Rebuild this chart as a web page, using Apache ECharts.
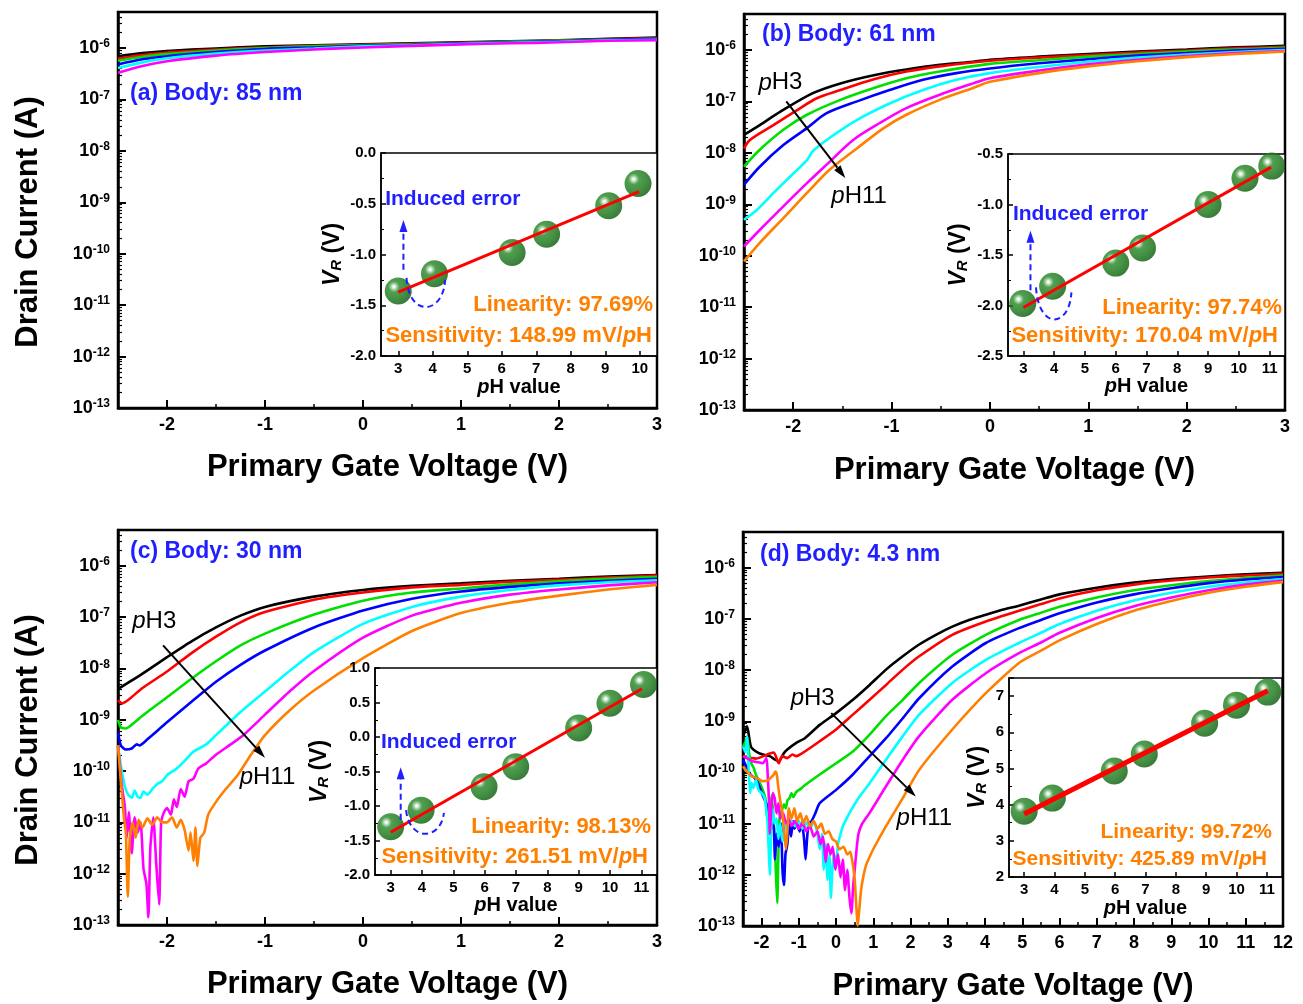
<!DOCTYPE html>
<html><head><meta charset="utf-8">
<script src="https://cdn.jsdelivr.net/npm/echarts@6/dist/echarts.min.js"></script>
<style>html,body{margin:0;padding:0;background:#fff}#c{width:1303px;height:1004px}</style>
</head><body><div id="c"></div>
<script>
// ================= DATA (drain current stored as log10(I / A)) =================
// ---- (a) Body 85 nm : x = primary gate voltage (V)
const a_vg      = [-2.5,-2.25,-2,-1.5,-1,-0.5,0,0.5,1,1.5,2,2.5,3];
const a_black   = [-6.16,-6.10,-6.06,-6.01,-5.97,-5.95,-5.93,-5.91,-5.89,-5.87,-5.85,-5.82,-5.80];
const a_red     = [-6.21,-6.14,-6.09,-6.03,-5.99,-5.96,-5.94,-5.92,-5.90,-5.88,-5.86,-5.83,-5.81];
const a_green   = [-6.25,-6.17,-6.12,-6.05,-6.00,-5.97,-5.95,-5.93,-5.91,-5.88,-5.86,-5.84,-5.82];
const a_blue    = [-6.32,-6.22,-6.16,-6.08,-6.02,-5.99,-5.96,-5.94,-5.91,-5.89,-5.87,-5.84,-5.82];
const a_cyan    = [-6.39,-6.28,-6.20,-6.11,-6.05,-6.01,-5.97,-5.95,-5.92,-5.90,-5.88,-5.85,-5.84];
const a_magenta = [-6.48,-6.35,-6.26,-6.15,-6.08,-6.03,-5.99,-5.96,-5.93,-5.91,-5.89,-5.86,-5.85];

// ---- (b) Body 61 nm : [V, log10 I]
const b_black   = [[-2.5,-7.65],[-2.34,-7.46],[-2.13,-7.20],[-1.8,-6.84],[-1.52,-6.65],[-1.18,-6.49],[-0.85,-6.38],[-0.51,-6.29],[-0.17,-6.23],[0,-6.19],[0.5,-6.13],[1,-6.08],[1.5,-6.03],[2,-5.99],[2.5,-5.95],[3,-5.92]];
const b_red     = [[-2.5,-7.92],[-2.44,-7.75],[-2.2,-7.46],[-1.96,-7.17],[-1.76,-6.94],[-1.52,-6.78],[-1.18,-6.57],[-0.85,-6.42],[-0.51,-6.32],[0,-6.21],[0.5,-6.15],[1,-6.10],[1.5,-6.05],[2,-6.01],[2.5,-5.97],[3,-5.94]];
const b_green   = [[-2.5,-8.27],[-2.34,-7.94],[-2.1,-7.55],[-1.86,-7.26],[-1.52,-6.97],[-1.18,-6.74],[-0.85,-6.55],[-0.51,-6.42],[0,-6.27],[0.5,-6.20],[1,-6.13],[1.5,-6.08],[2,-6.03],[2.5,-5.99],[3,-5.96]];
const b_blue    = [[-2.5,-8.62],[-2.34,-8.27],[-2.1,-7.85],[-1.86,-7.52],[-1.66,-7.23],[-1.35,-7.00],[-1.02,-6.78],[-0.68,-6.58],[-0.34,-6.45],[0,-6.36],[0.5,-6.26],[1,-6.18],[1.5,-6.11],[2,-6.06],[2.5,-6.01],[3,-5.98]];
const b_cyan    = [[-2.5,-9.30],[-2.37,-9.11],[-2.2,-8.78],[-2.03,-8.46],[-1.86,-8.14],[-1.8,-7.97],[-1.66,-7.75],[-1.35,-7.36],[-1.02,-7.04],[-0.68,-6.78],[-0.34,-6.58],[0,-6.45],[0.5,-6.33],[1,-6.23],[1.5,-6.15],[2,-6.09],[2.5,-6.04],[3,-6.00]];
const b_magenta = [[-2.5,-9.82],[-2.34,-9.50],[-2.1,-9.04],[-1.86,-8.59],[-1.66,-8.23],[-1.39,-7.75],[-1.12,-7.42],[-0.85,-7.13],[-0.51,-6.87],[-0.17,-6.65],[0,-6.55],[0.5,-6.40],[1,-6.28],[1.5,-6.19],[2,-6.12],[2.5,-6.06],[3,-6.02]];
const b_orange  = [[-2.5,-10.11],[-2.34,-9.75],[-2.1,-9.27],[-1.86,-8.78],[-1.63,-8.33],[-1.35,-7.91],[-1.08,-7.52],[-0.85,-7.26],[-0.51,-6.97],[-0.17,-6.74],[0,-6.62],[0.5,-6.45],[1,-6.32],[1.5,-6.22],[2,-6.14],[2.5,-6.08],[3,-6.03]];

// ---- (c) Body 30 nm
const c_black   = [[-2.5,-8.40],[-2.25,-8.10],[-2,-7.78],[-1.75,-7.47],[-1.5,-7.2],[-1.25,-6.97],[-1,-6.80],[-0.5,-6.60],[0,-6.47],[0.5,-6.39],[1,-6.34],[1.5,-6.29],[2,-6.25],[2.5,-6.21],[3,-6.18]];
const c_red     = [[-2.5,-8.62],[-2.46,-8.68],[-2.4,-8.62],[-2.25,-8.38],[-2,-8.06],[-1.75,-7.70],[-1.5,-7.38],[-1.25,-7.10],[-1,-6.90],[-0.5,-6.66],[0,-6.52],[0.5,-6.42],[1,-6.37],[1.5,-6.31],[2,-6.27],[2.5,-6.23],[3,-6.19]];
const c_green   = [[-2.5,-9.0],[-2.47,-9.15],[-2.42,-9.17],[-2.35,-9.08],[-2.25,-8.92],[-2,-8.56],[-1.75,-8.20],[-1.5,-7.86],[-1.25,-7.55],[-1,-7.32],[-0.5,-6.95],[0,-6.68],[0.5,-6.52],[1,-6.44],[1.5,-6.36],[2,-6.30],[2.5,-6.25],[3,-6.22]];
const c_blue    = [[-2.5,-9.25],[-2.47,-9.50],[-2.42,-9.58],[-2.36,-9.56],[-2.31,-9.48],[-2.28,-9.50],[-2.2,-9.38],[-2,-9.05],[-1.75,-8.65],[-1.5,-8.26],[-1.25,-7.93],[-1,-7.65],[-0.5,-7.20],[0,-6.87],[0.5,-6.64],[1,-6.50],[1.5,-6.41],[2,-6.34],[2.5,-6.29],[3,-6.25]];
const c_cyan    = [[-2.5,-9.5],[-2.47,-9.9],[-2.43,-10.3],[-2.4,-10.45],[-2.36,-10.52],[-2.33,-10.38],[-2.3,-10.50],[-2.27,-10.52],[-2.24,-10.40],[-2.2,-10.46],[-2.15,-10.35],[-2.1,-10.25],[-2.05,-10.20],[-2.0,-10.08],[-1.9,-9.95],[-1.8,-9.76],[-1.73,-9.62],[-1.6,-9.48],[-1.5,-9.30],[-1.25,-8.85],[-1,-8.45],[-0.75,-8.05],[-0.5,-7.68],[0,-7.13],[0.5,-6.80],[1,-6.60],[1.5,-6.47],[2,-6.38],[2.5,-6.32],[3,-6.28]];
const c_magenta = [[-2.5,-9.5],[-2.46,-10.3],[-2.43,-10.7],[-2.41,-11.3],[-2.39,-10.8],[-2.36,-11.6],[-2.33,-10.9],[-2.3,-11.2],[-2.27,-11.0],[-2.24,-11.9],[-2.21,-12.2],[-2.19,-12.85],[-2.17,-11.5],[-2.14,-10.9],[-2.11,-11.8],[-2.08,-12.6],[-2.06,-11.0],[-2.03,-10.8],[-2.0,-10.72],[-1.96,-10.85],[-1.93,-10.55],[-1.9,-10.7],[-1.86,-10.35],[-1.82,-10.5],[-1.78,-10.2],[-1.73,-10.15],[-1.68,-9.95],[-1.6,-9.85],[-1.5,-9.68],[-1.35,-9.48],[-1.21,-9.28],[-1.0,-8.9],[-0.75,-8.45],[-0.5,-8.05],[0,-7.40],[0.5,-6.97],[1,-6.72],[1.5,-6.56],[2,-6.46],[2.5,-6.38],[3,-6.32]];
const c_orange  = [[-2.5,-9.5],[-2.47,-10.2],[-2.44,-10.9],[-2.42,-11.2],[-2.4,-12.45],[-2.38,-11.3],[-2.35,-11.0],[-2.32,-11.3],[-2.29,-10.95],[-2.25,-11.1],[-2.2,-10.92],[-2.15,-11.05],[-2.1,-10.90],[-2.05,-11.0],[-2.0,-11.0],[-1.95,-10.9],[-1.9,-11.1],[-1.86,-10.95],[-1.82,-11.15],[-1.78,-11.55],[-1.76,-11.2],[-1.73,-11.75],[-1.71,-11.1],[-1.69,-11.85],[-1.66,-11.3],[-1.62,-11.2],[-1.58,-10.85],[-1.5,-10.6],[-1.4,-10.35],[-1.28,-10.08],[-1.15,-9.7],[-1.0,-9.3],[-0.75,-8.82],[-0.5,-8.43],[0,-7.80],[0.5,-7.27],[1,-6.92],[1.5,-6.72],[2,-6.58],[2.5,-6.46],[3,-6.37]];

// ---- (d) Body 4.3 nm
const d_black   = [[-2.5,-9.3],[-2.43,-9.16],[-2.39,-9.10],[-2.29,-9.49],[-2.15,-9.59],[-1.97,-9.65],[-1.78,-9.68],[-1.64,-9.75],[-1.54,-9.78],[-1.40,-9.62],[-1.31,-9.55],[-1.07,-9.42],[-0.84,-9.33],[-0.44,-9.07],[0,-8.84],[0.45,-8.58],[0.9,-8.29],[1.34,-7.99],[1.79,-7.73],[2.23,-7.50],[2.68,-7.31],[3.12,-7.15],[3.57,-7.02],[4.02,-6.92],[4.46,-6.82],[4.91,-6.74],[5.5,-6.62],[6,-6.52],[7,-6.39],[8,-6.29],[9,-6.22],[10,-6.17],[11,-6.13],[12,-6.10]];
const d_red     = [[-2.5,-9.68],[-2.15,-9.73],[-1.78,-9.63],[-1.67,-9.61],[-1.54,-9.82],[-1.45,-9.68],[-1.31,-9.72],[-1.17,-9.65],[-1.07,-9.68],[-0.84,-9.59],[-0.44,-9.39],[0,-9.16],[0.45,-8.87],[0.9,-8.58],[1.34,-8.29],[1.79,-7.99],[2.23,-7.73],[3.12,-7.31],[4.02,-7.05],[4.91,-6.84],[5.5,-6.71],[6,-6.60],[7,-6.44],[8,-6.33],[9,-6.25],[10,-6.19],[11,-6.15],[12,-6.12]];
const d_green   = [[-2.5,-9.49],[-2.43,-9.4],[-2.39,-9.30],[-2.34,-9.6],[-2.29,-9.80],[-2.22,-9.9],[-2.15,-10.05],[-2.05,-10.2],[-1.97,-10.34],[-1.9,-10.5],[-1.85,-10.9],[-1.82,-10.6],[-1.78,-10.75],[-1.73,-10.45],[-1.68,-10.9],[-1.64,-11.5],[-1.61,-12.1],[-1.58,-12.55],[-1.55,-11.6],[-1.52,-10.9],[-1.46,-10.75],[-1.40,-10.62],[-1.35,-10.7],[-1.31,-10.55],[-1.25,-10.5],[-1.2,-10.4],[-1.15,-10.48],[-1.07,-10.38],[-0.95,-10.32],[-0.84,-10.25],[-0.44,-10.04],[0,-9.82],[0.45,-9.59],[0.9,-9.26],[1.34,-8.90],[1.79,-8.58],[2.23,-8.25],[3.12,-7.70],[4.02,-7.31],[4.91,-7.02],[5.5,-6.88],[6,-6.76],[7,-6.58],[8,-6.44],[9,-6.34],[10,-6.26],[11,-6.20],[12,-6.15]];
const d_blue    = [[-2.5,-9.75],[-2.4,-9.9],[-2.29,-10.05],[-2.2,-10.1],[-2.1,-10.2],[-1.97,-10.45],[-1.88,-10.6],[-1.8,-10.85],[-1.74,-11.1],[-1.68,-11.0],[-1.64,-11.7],[-1.6,-11.2],[-1.54,-11.45],[-1.48,-11.0],[-1.44,-11.9],[-1.40,-12.2],[-1.36,-11.6],[-1.31,-11.4],[-1.26,-11.0],[-1.21,-11.25],[-1.16,-10.95],[-1.12,-11.1],[-1.05,-11.0],[-0.98,-11.15],[-0.92,-11.0],[-0.86,-11.3],[-0.82,-11.7],[-0.78,-11.3],[-0.74,-11.0],[-0.66,-10.95],[-0.56,-10.8],[-0.44,-10.6],[0,-10.34],[0.45,-10.04],[0.9,-9.68],[1.34,-9.33],[1.79,-8.94],[2.23,-8.55],[3.12,-7.93],[4.02,-7.47],[4.91,-7.18],[5.5,-7.02],[6,-6.89],[7,-6.68],[8,-6.52],[9,-6.40],[10,-6.30],[11,-6.23],[12,-6.18]];
const d_cyan    = [[-2.5,-9.49],[-2.44,-9.6],[-2.39,-9.30],[-2.35,-9.9],[-2.31,-10.4],[-2.27,-10.2],[-2.22,-10.3],[-2.15,-10.15],[-2.08,-10.35],[-2.0,-10.4],[-1.92,-10.5],[-1.85,-10.9],[-1.81,-11.5],[-1.78,-12.0],[-1.75,-11.3],[-1.71,-10.7],[-1.66,-11.0],[-1.6,-10.9],[-1.55,-11.3],[-1.5,-11.0],[-1.44,-11.35],[-1.38,-11.1],[-1.3,-11.0],[-1.2,-10.95],[-1.1,-11.05],[-1.0,-10.95],[-0.9,-11.1],[-0.8,-10.98],[-0.7,-11.1],[-0.6,-10.95],[-0.5,-11.2],[-0.44,-11.5],[-0.38,-11.2],[-0.33,-11.9],[-0.28,-11.4],[-0.23,-12.1],[-0.18,-11.6],[-0.14,-12.45],[-0.1,-11.9],[-0.05,-11.6],[0.0,-11.8],[0.05,-11.4],[0.12,-11.2],[0.18,-11.05],[0.25,-10.95],[0.36,-10.79],[0.63,-10.47],[0.9,-10.21],[1.34,-9.75],[1.79,-9.29],[2.23,-8.87],[3.12,-8.25],[4.02,-7.80],[4.91,-7.47],[5.5,-7.27],[6,-7.10],[7,-6.84],[8,-6.64],[9,-6.49],[10,-6.37],[11,-6.29],[12,-6.22]];
const d_magenta = [[-2.5,-9.68],[-2.4,-9.72],[-2.25,-9.78],[-2.1,-9.8],[-1.97,-9.82],[-1.87,-9.72],[-1.84,-10.0],[-1.8,-10.6],[-1.78,-11.2],[-1.74,-10.7],[-1.7,-10.4],[-1.65,-10.5],[-1.6,-10.8],[-1.55,-10.6],[-1.5,-10.9],[-1.42,-10.8],[-1.35,-11.0],[-1.27,-10.9],[-1.2,-11.05],[-1.1,-10.95],[-1.0,-11.1],[-0.9,-10.98],[-0.8,-11.15],[-0.7,-11.05],[-0.6,-11.25],[-0.5,-11.15],[-0.42,-11.4],[-0.35,-11.25],[-0.28,-11.75],[-0.22,-11.4],[-0.15,-11.6],[-0.09,-11.45],[-0.02,-11.9],[0.05,-11.6],[0.12,-12.05],[0.18,-11.7],[0.24,-12.3],[0.3,-11.9],[0.36,-12.45],[0.41,-12.75],[0.46,-12.2],[0.50,-11.9],[0.55,-11.5],[0.6,-11.2],[0.7,-11.0],[0.9,-10.79],[1.34,-10.27],[1.79,-9.75],[2.23,-9.29],[3.12,-8.58],[4.02,-8.06],[4.91,-7.67],[5.5,-7.46],[6,-7.27],[7,-6.98],[8,-6.75],[9,-6.58],[10,-6.44],[11,-6.33],[12,-6.25]];
const d_orange  = [[-2.5,-9.88],[-2.4,-9.98],[-2.25,-10.08],[-2.1,-10.12],[-1.97,-10.17],[-1.85,-10.16],[-1.75,-10.1],[-1.68,-10.05],[-1.63,-9.98],[-1.59,-10.05],[-1.55,-10.3],[-1.5,-10.55],[-1.45,-10.75],[-1.4,-11.1],[-1.35,-11.5],[-1.31,-11.2],[-1.27,-10.7],[-1.2,-10.9],[-1.12,-10.7],[-1.05,-10.95],[-0.96,-10.8],[-0.88,-11.0],[-0.8,-10.85],[-0.7,-11.05],[-0.6,-10.95],[-0.5,-11.1],[-0.4,-11.0],[-0.3,-11.2],[-0.2,-11.15],[-0.1,-11.3],[0,-11.35],[0.09,-11.5],[0.2,-11.45],[0.3,-11.6],[0.38,-11.55],[0.45,-11.8],[0.50,-12.1],[0.55,-12.7],[0.58,-13.0],[0.62,-12.7],[0.67,-12.3],[0.74,-12.0],[0.81,-11.8],[0.9,-11.65],[0.99,-11.51],[1.34,-11.05],[1.79,-10.50],[2.23,-9.95],[3.12,-9.16],[4.02,-8.45],[4.91,-7.86],[5.5,-7.62],[6,-7.42],[7,-7.10],[8,-6.84],[9,-6.65],[10,-6.49],[11,-6.37],[12,-6.28]];

// ---- Insets: reference voltage V_R (V) vs pH
const a_pH = [3, 4.05, 6.3, 7.3, 9.1, 9.95];
const a_VR = [-1.36, -1.19, -0.98, -0.80, -0.52, -0.30];
const a_fit = [[3, -1.37], [9.98, -0.38]];
const b_pH = [2.98, 3.95, 6, 6.87, 9, 10.2, 11.07];
const b_VR = [-1.98, -1.81, -1.58, -1.43, -1.00, -0.74, -0.62];
const b_fit = [[3, -2.02], [11.05, -0.63]];
const c_pH = [3, 3.97, 5.98, 6.99, 9, 10, 11.07];
const c_VR = [-1.30, -1.06, -0.72, -0.43, 0.13, 0.49, 0.76];
const c_fit = [[3, -1.38], [11.02, 0.70]];
const d_pH = [3, 3.93, 5.97, 6.96, 8.95, 10, 11.03];
const d_VR = [3.82, 4.18, 4.93, 5.40, 6.25, 6.75, 7.11];
const d_fit = [[3, 3.74], [11.03, 7.15]];

// ---- Tick labels & texts
const xTicksMain = [-2, -1, 0, 1, 2, 3];
const xTicksD = [-2, -1, 0, 1, 2, 3, 4, 5, 6, 7, 8, 9, 10, 11, 12];
const yDecades = [-13, -12, -11, -10, -9, -8, -7, -6];
const insetTicksA = [3, 4, 5, 6, 7, 8, 9, 10];
const insetTicks = [3, 4, 5, 6, 7, 8, 9, 10, 11];
const panelTitles = ['(a) Body: 85 nm', '(b) Body: 61 nm', '(c) Body: 30 nm', '(d) Body: 4.3 nm'];
const linearity = ['Linearity: 97.69%', 'Linearity: 97.74%', 'Linearity: 98.13%', 'Linearity: 99.72%'];
const sensitivity = ['148.99', '170.04', '261.51', '425.89'];

// ================= STYLE / LAYOUT =================
const FONT = '"Liberation Sans", Arial, Helvetica, sans-serif';
const COLORS = ['#000000', '#ff0000', '#00e000', '#0000ff', '#00ffff', '#ff00ff', '#ff8000'];
const TXT_BLUE = '#1f1fff';
const TXT_ORANGE = '#ff8000';
const LOG_MAX = Math.log10(5e-6);
const yMinorTicks = [];
for (let n = -13; n <= -6; n++) for (let k = 2; k <= 9; k++) { const v = n + Math.log10(k); if (v < LOG_MAX - 1e-6) yMinorTicks.push(v); }
const halfTicks = (a, b) => { const r = []; for (let v = a; v <= b + 1e-9; v += 1) r.push(v); return r; };

const panels = [
  { main: {left: 118, top: 12, width: 539, height: 396}, xMax: 3, xT: xTicksMain, xM: halfTicks(-1.5, 2.5), yTitle: [28, 222], xGap: 44, smooth: 0.3,
    curves: [a_black, a_red, a_green, a_blue, a_cyan, a_magenta].map(arr => arr.map((v, i) => [a_vg[i], v])),
    inset: {left: 381, top: 153, width: 276, height: 203}, ixMax: 10.5, ixT: insetTicksA, iyMin: -2, iyMax: 0, iyInt: 0.5, iyDec: 1, iyGap: 37, ixGap: 21,
    pts: a_pH.map((x, i) => [x, a_VR[i]]), fit: a_fit, fitW: 3,
    title: [130, 94], lin: [653, 305], sen: [652, 336], fs: 22,
    err: {text: [2.62, -0.453], a1: [3.15, -1.15], a2: [3.15, -0.66], arc: [[3.24, -1.23], [3.3, -1.62], [4.3, -1.6], [4.36, -1.25]]} },
  { main: {left: 744, top: 14, width: 541, height: 396}, xMax: 3, xT: xTicksMain, xM: halfTicks(-1.5, 2.5), yTitle: null, xGap: 45, smooth: 0.3,
    curves: [b_black, b_red, b_green, b_blue, b_cyan, b_magenta, b_orange],
    inset: {left: 1008, top: 154, width: 277, height: 202}, ixMax: 11.5, ixT: insetTicks, iyMin: -2.5, iyMax: -0.5, iyInt: 0.5, iyDec: 1, iyGap: 38, ixGap: 17,
    pts: b_pH.map((x, i) => [x, b_VR[i]]), fit: b_fit, fitW: 3,
    title: [762, 35], lin: [1282, 308], sen: [1278, 336], fs: 22,
    arrow: {p1: [-2.07, -7.0], p2: [-1.47, -8.49], l3: [-2.13, -6.64], l11: [-1.33, -8.85]},
    err: {text: [2.66, -1.094], a1: [3.23, -1.85], a2: [3.23, -1.26], arc: [[3.41, -1.82], [3.5, -2.25], [4.5, -2.22], [4.56, -1.87]]} },
  { main: {left: 118, top: 530, width: 539, height: 395}, xMax: 3, xT: xTicksMain, xM: halfTicks(-1.5, 2.5), yTitle: [28, 740], xGap: 44, smooth: 0.2,
    curves: [c_black, c_red, c_green, c_blue, c_cyan, c_magenta, c_orange],
    inset: {left: 375, top: 668, width: 282, height: 207}, ixMax: 11.5, ixT: insetTicks, iyMin: -2, iyMax: 1, iyInt: 0.5, iyDec: 1, iyGap: 44, ixGap: 17,
    pts: c_pH.map((x, i) => [x, c_VR[i]]), fit: c_fit, fitW: 3,
    title: [130, 552], lin: [651, 827], sen: [648, 857], fs: 22,
    arrow: {p1: [-2.04, -7.55], p2: [-1.0, -9.74], l3: [-2.13, -7.09], l11: [-0.975, -10.13]},
    err: {text: [2.69, -0.077], a1: [3.32, -1.20], a2: [3.32, -0.44], arc: [[3.49, -1.06], [3.6, -1.52], [4.6, -1.5], [4.70, -1.10]]} },
  { main: {left: 743, top: 532, width: 540, height: 394}, xMax: 12, xT: xTicksD, xM: halfTicks(-1.5, 11.5), yTitle: null, xGap: 45, smooth: 0.2,
    curves: [d_black, d_red, d_green, d_blue, d_cyan, d_magenta, d_orange],
    inset: {left: 1009, top: 678, width: 273, height: 199}, ixMax: 11.5, ixT: insetTicks, iyMin: 2, iyMax: 7.5, iyInt: 1, iyDec: 0, iyGap: 20, ixGap: 21,
    pts: d_pH.map((x, i) => [x, d_VR[i]]), fit: d_fit, fitW: 5,
    title: [760, 555], lin: [1272, 832], sen: [1267, 859], fs: 21,
    arrow: {p1: [-0.13, -8.84], p2: [2.14, -10.47], l3: [-0.63, -8.55], l11: [2.37, -10.89]} }
];

const BALL = {type: 'radial', x: 0.34, y: 0.34, r: 0.68, colorStops: [
  {offset: 0, color: '#ffffff'}, {offset: 0.07, color: '#e6f2e6'}, {offset: 0.17, color: '#86c086'},
  {offset: 0.3, color: '#248624'}, {offset: 0.65, color: '#177617'}, {offset: 1, color: '#0a5c0a'}]};

const txt = (size, extra) => Object.assign({fontFamily: FONT, fontWeight: 'bold', fontSize: size, color: '#000'}, extra || {});

const grid = [], xAxis = [], yAxis = [], series = [], refs = [];
panels.forEach((p, pi) => {
  const gM = grid.length;
  grid.push(Object.assign({show: true, borderColor: '#000', borderWidth: 2.5, z: 0}, p.main));
  const gI = grid.length;
  grid.push(Object.assign({show: true, borderColor: '#000', borderWidth: 1.5, backgroundColor: '#fff', z: 5}, p.inset));
  const xm = xAxis.length;
  xAxis.push({gridIndex: gM, type: 'value', position: 'bottom', min: -2.5, max: p.xMax,
    axisLine: {onZero: false, lineStyle: {color: '#000', width: 2.5}},
    axisTick: {inside: true, length: 8, customValues: p.xT, lineStyle: {color: '#000', width: 2}},
    axisLabel: {customValues: p.xT, margin: 8, ...txt(18)}, splitLine: {show: false},
    name: 'Primary Gate Voltage (V)', nameLocation: 'middle', nameGap: p.xGap, nameTextStyle: txt(31)});
  xAxis.push({gridIndex: gM, type: 'value', position: 'bottom', min: -2.5, max: p.xMax,
    axisLine: {show: false, onZero: false}, axisTick: {inside: true, length: 4, customValues: p.xM, lineStyle: {color: '#000', width: 1.5}},
    axisLabel: {show: false}, splitLine: {show: false}});
  const ym = yAxis.length;
  yAxis.push({gridIndex: gM, type: 'value', position: 'left', min: -13, max: LOG_MAX,
    axisLine: {onZero: false, lineStyle: {color: '#000', width: 2.5}},
    axisTick: {inside: true, length: 8, customValues: yDecades, lineStyle: {color: '#000', width: 2}},
    axisLabel: {customValues: yDecades, margin: 8, formatter: v => '{b|10}{s|' + v + '}',
      rich: {b: txt(18, {lineHeight: 20, verticalAlign: 'middle'}), s: txt(12, {verticalAlign: 'top', lineHeight: 12})}},
    splitLine: {show: false}});
  yAxis.push({gridIndex: gM, type: 'value', position: 'left', min: -13, max: LOG_MAX,
    axisLine: {show: false, onZero: false}, axisTick: {inside: true, length: 4, customValues: yMinorTicks, lineStyle: {color: '#000', width: 1.2}},
    axisLabel: {show: false}, splitLine: {show: false}});
  const xi = xAxis.length;
  xAxis.push({gridIndex: gI, type: 'value', position: 'bottom', min: 2.5, max: p.ixMax, z: 8,
    axisLine: {onZero: false, lineStyle: {color: '#000', width: 1.5}},
    axisTick: {inside: true, length: 5, customValues: p.ixT, lineStyle: {color: '#000', width: 1.5}},
    axisLabel: {customValues: p.ixT, margin: 5, ...txt(15)}, splitLine: {show: false},
    name: '{i|p}{n|H value}', nameLocation: 'middle', nameGap: p.ixGap,
    nameTextStyle: {rich: {i: txt(20, {fontStyle: 'italic'}), n: txt(20)}}});
  const yi = yAxis.length;
  yAxis.push({gridIndex: gI, type: 'value', position: 'left', min: p.iyMin, max: p.iyMax, interval: p.iyInt, z: 8,
    axisLine: {onZero: false, lineStyle: {color: '#000', width: 1.5}},
    axisTick: {inside: true, length: 5, lineStyle: {color: '#000', width: 1.5}},
    minorTick: {show: true, splitNumber: 2, length: 3, lineStyle: {color: '#000', width: 1}},
    axisLabel: {margin: 5, showMaxLabel: p.iyDec === 1, formatter: v => (p.iyDec === 0 && !Number.isInteger(v)) ? '' : v.toFixed(p.iyDec), ...txt(15)},
    splitLine: {show: false}, minorSplitLine: {show: false},
    name: '{v|V}{r|R}{u| (V)}', nameLocation: 'middle', nameGap: p.iyGap, nameRotate: 90,
    nameTextStyle: {rich: {v: txt(23, {fontStyle: 'italic'}), r: txt(15, {fontStyle: 'italic', verticalAlign: 'bottom'}), u: txt(23)}}});
  p.curves.forEach((d, ci) => series.push({type: 'line', xAxisIndex: xm, yAxisIndex: ym, data: d, symbol: 'none', showSymbol: false,
    smooth: p.smooth, lineStyle: {color: COLORS[ci], width: 2.6}, z: 2, silent: true, animation: false}));
  series.push({type: 'scatter', xAxisIndex: xi, yAxisIndex: yi, data: p.pts, symbol: 'circle', symbolSize: 27,
    itemStyle: {color: BALL}, z: 9, silent: true, animation: false});
  series.push({type: 'line', xAxisIndex: xi, yAxisIndex: yi, data: p.fit, symbol: 'none', showSymbol: false,
    lineStyle: {color: '#ff0000', width: p.fitW}, z: 10, silent: true, animation: false});
  refs.push({xm, ym, xi, yi});
});

const chart = echarts.init(document.getElementById('c'), null, {renderer: 'canvas'});
chart.setOption({animation: false, backgroundColor: '#fff', grid, xAxis, yAxis, series});

// ================= Annotations =================
function arrow(p1, p2, color, width, dash, hl, hw) {
  const dx = p2[0] - p1[0], dy = p2[1] - p1[1], L = Math.hypot(dx, dy), ux = dx / L, uy = dy / L;
  const bx = p2[0] - ux * hl, by = p2[1] - uy * hl, nx = -uy, ny = ux;
  return [
    {type: 'line', z: 30, shape: {x1: p1[0], y1: p1[1], x2: bx, y2: by}, style: {stroke: color, lineWidth: width, lineDash: dash || null}},
    {type: 'polygon', z: 30, shape: {points: [[p2[0], p2[1]], [bx + nx * hw / 2, by + ny * hw / 2], [bx - nx * hw / 2, by - ny * hw / 2]]}, style: {fill: color}}
  ];
}
const g = [];
panels.forEach((p, pi) => {
  const r = refs[pi];
  const M = v => chart.convertToPixel({xAxisIndex: r.xm, yAxisIndex: r.ym}, v);
  const I = v => chart.convertToPixel({xAxisIndex: r.xi, yAxisIndex: r.yi}, v);
  if (p.yTitle) g.push({type: 'text', z: 30, x: p.yTitle[0], y: p.yTitle[1], rotation: Math.PI / 2,
    style: {text: 'Drain Current (A)', fill: '#000', font: 'bold 31px ' + FONT, align: 'center', verticalAlign: 'middle'}});
  g.push({type: 'text', z: 30, x: p.title[0], y: p.title[1], style: {text: panelTitles[pi], fill: TXT_BLUE, font: 'bold 23px ' + FONT, align: 'left', verticalAlign: 'middle'}});
  g.push({type: 'text', z: 30, x: p.lin[0], y: p.lin[1], style: {text: linearity[pi], fill: TXT_ORANGE, font: 'bold ' + p.fs + 'px ' + FONT, align: 'right', verticalAlign: 'middle'}});
  g.push({type: 'text', z: 30, x: p.sen[0], y: p.sen[1], style: {text: '{o|Sensitivity: ' + sensitivity[pi] + ' mV/}{oi|p}{o|H}', align: 'right', verticalAlign: 'middle',
    rich: {o: {fill: TXT_ORANGE, color: TXT_ORANGE, fontFamily: FONT, fontWeight: 'bold', fontSize: p.fs}, oi: {fill: TXT_ORANGE, color: TXT_ORANGE, fontFamily: FONT, fontWeight: 'bold', fontStyle: 'italic', fontSize: p.fs}}}});
  if (p.arrow) {
    const a1 = M(p.arrow.p1), a2 = M(p.arrow.p2);
    g.push(...arrow(a1, a2, '#000', 2, null, 13, 8));
    const phRich = {i: {fill: '#000', color: '#000', fontFamily: FONT, fontStyle: 'italic', fontSize: 24}, n: {fill: '#000', color: '#000', fontFamily: FONT, fontSize: 24}};
    const l3 = M(p.arrow.l3), l11 = M(p.arrow.l11);
    g.push({type: 'text', z: 30, x: l3[0], y: l3[1], style: {text: '{i|p}{n|H3}', rich: phRich, align: 'center', verticalAlign: 'middle'}});
    g.push({type: 'text', z: 30, x: l11[0], y: l11[1], style: {text: '{i|p}{n|H11}', rich: phRich, align: 'center', verticalAlign: 'middle'}});
  }
  if (p.err) {
    const t = I(p.err.text);
    g.push({type: 'text', z: 30, x: t[0], y: t[1], style: {text: 'Induced error', fill: TXT_BLUE, font: 'bold 21px ' + FONT, align: 'left', verticalAlign: 'middle'}});
    g.push(...arrow(I(p.err.a1), I(p.err.a2), TXT_BLUE, 2, [6, 4], 12, 8));
    const c = p.err.arc.map(I);
    g.push({type: 'bezierCurve', z: 30, shape: {x1: c[0][0], y1: c[0][1], cpx1: c[1][0], cpy1: c[1][1], cpx2: c[2][0], cpy2: c[2][1], x2: c[3][0], y2: c[3][1]},
      style: {stroke: TXT_BLUE, lineWidth: 2, lineDash: [6, 4], fill: null}});
  }
});
chart.setOption({graphic: {elements: g}});
</script></body></html>
